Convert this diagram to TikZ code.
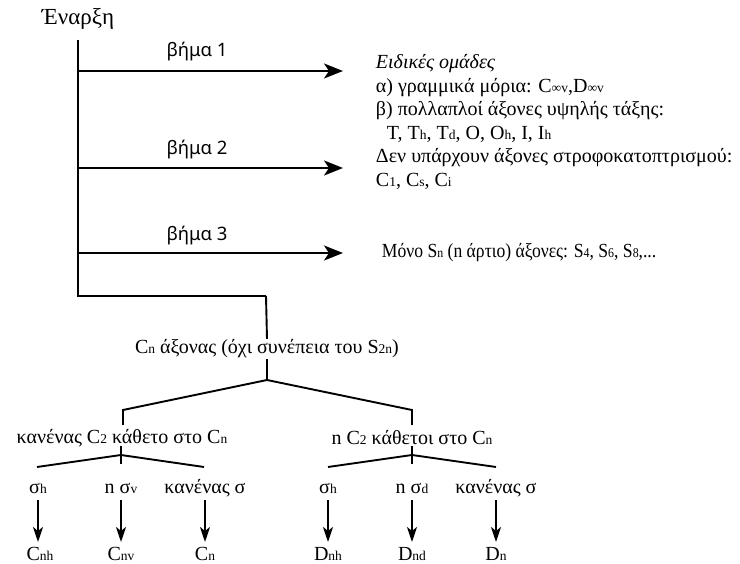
\documentclass[tikz,border=0pt]{standalone}
\usepackage{fontspec}
\setmainfont{Liberation Serif}
\newfontfamily\stepfont{Noto Sans}
\usetikzlibrary{arrows.meta}
\newcommand{\lo}[1]{{\fontsize{13.5}{13.5}\selectfont #1}}
\begin{document}
\begin{tikzpicture}[x=1pt,y=-1pt, line width=1.9pt,
  txt/.style={font=\fontsize{20}{24}\selectfont, inner sep=0pt},
  steplbl/.style={font=\stepfont\fontsize{18.5}{22}\selectfont, inner sep=0pt},
  bigarrow/.style={-{Stealth[length=19pt,width=15pt,inset=5pt]}},
  smallarrow/.style={-{Stealth[length=15pt,width=10pt,inset=4pt]}}]
\useasboundingbox (0,0) rectangle (740,564);

% start and main spine
\node[txt, font=\fontsize{23}{26}\selectfont] (start) at (78,19) {Έναρξη};
\coordinate (top) at (78,40);
\coordinate (j1) at (78,71);
\coordinate (j2) at (78,168);
\coordinate (j3) at (78,253);
\coordinate (bot) at (78,296);
\coordinate (bend) at (266,296);
\draw (top) -- (bot) -- (bend);

% steps
\node[steplbl] (s1) at (197,52) {βήμα 1};
\node[steplbl] (s2) at (197,150) {βήμα 2};
\node[steplbl] (s3) at (197,236) {βήμα 3};
\coordinate (e1) at (343,71);
\coordinate (e2) at (343,168);
\coordinate (e3) at (343,253);
\draw[bigarrow] (j1) -- (e1);
\draw[bigarrow] (j2) -- (e2);
\draw[bigarrow] (j3) -- (e3);

% right texts
\node[txt, anchor=west] (r1) at (375,64) {\itshape Ειδικές ομάδες};
\node[txt, anchor=west] (r2) at (375,87.5) {α) γραμμικά μόρια: C\lo{∞v},D\lo{∞v}};
\node[txt, anchor=west] (r3) at (375,111) {β) πολλαπλοί άξονες υψηλής τάξης:};
\node[txt, anchor=west] (r4) at (386,134.5) {T, T\lo{h}, T\lo{d}, O, O\lo{h}, I, I\lo{h}};
\node[txt, anchor=west] (r5) at (375,158) {Δεν υπάρχουν άξονες στροφοκατοπτρισμού:};
\node[txt, anchor=west] (r6) at (375,181.5) {C\lo{1}, C\lo{s}, C\lo{i}};
\node[txt, anchor=west] (r7) at (381,253) {\scalebox{0.88}[1]{Μόνο S\lo{n} (n άρτιο) άξονες: S\lo{4}, S\lo{6}, S\lo{8},...}};

% Cn axis
\node[txt] (cn) at (267,349) {C\lo{n} άξονας (όχι συνέπεια του S\lo{2n})};
\draw (bend) -- (cn.north);
\coordinate (apex) at (267,380);
\coordinate (lb) at (123,410);
\coordinate (rb) at (412,410);
\draw (cn.south) -- (apex);
\draw (apex) -- (lb) -- (123,425);
\draw (apex) -- (rb) -- (412,425);

\node[txt] (noc2) at (122,438) {κανένας C\lo{2} κάθετο στο C\lo{n}};
\node[txt] (nc2) at (412,438) {n C\lo{2} κάθετοι στο C\lo{n}};

% left subtree
\coordinate (la) at (121,455);
\draw (121,446) -- (121,464);
\draw (37,467) -- (la) -- (204,467);
\node[txt] (lsh) at (38,488) {σ\lo{h}};
\node[txt] (lsv) at (121,488) {n σ\lo{v}};
\node[txt] (lsn) at (205,488) {κανένας σ};
\node[txt] (cnh) at (40,554) {C\lo{nh}};
\node[txt] (cnv) at (121,554) {C\lo{nv}};
\node[txt] (cnn) at (205,554) {C\lo{n}};
\draw[smallarrow] (lsh.south |- 0,500) -- (38,542);
\draw[smallarrow] (121,500) -- (121,542);
\draw[smallarrow] (205,500) -- (205,542);

% right subtree
\coordinate (ra) at (412,455);
\draw (412,446) -- (412,464);
\draw (328,467) -- (ra) -- (496,467);
\node[txt] (rsh) at (328,488) {σ\lo{h}};
\node[txt] (rsd) at (412,488) {n σ\lo{d}};
\node[txt] (rsn) at (496,488) {κανένας σ};
\node[txt] (dnh) at (328,554) {D\lo{nh}};
\node[txt] (dnd) at (412,554) {D\lo{nd}};
\node[txt] (dnn) at (496,554) {D\lo{n}};
\draw[smallarrow] (328,500) -- (328,542);
\draw[smallarrow] (412,500) -- (412,542);
\draw[smallarrow] (496,500) -- (496,542);
\end{tikzpicture}
\end{document}
